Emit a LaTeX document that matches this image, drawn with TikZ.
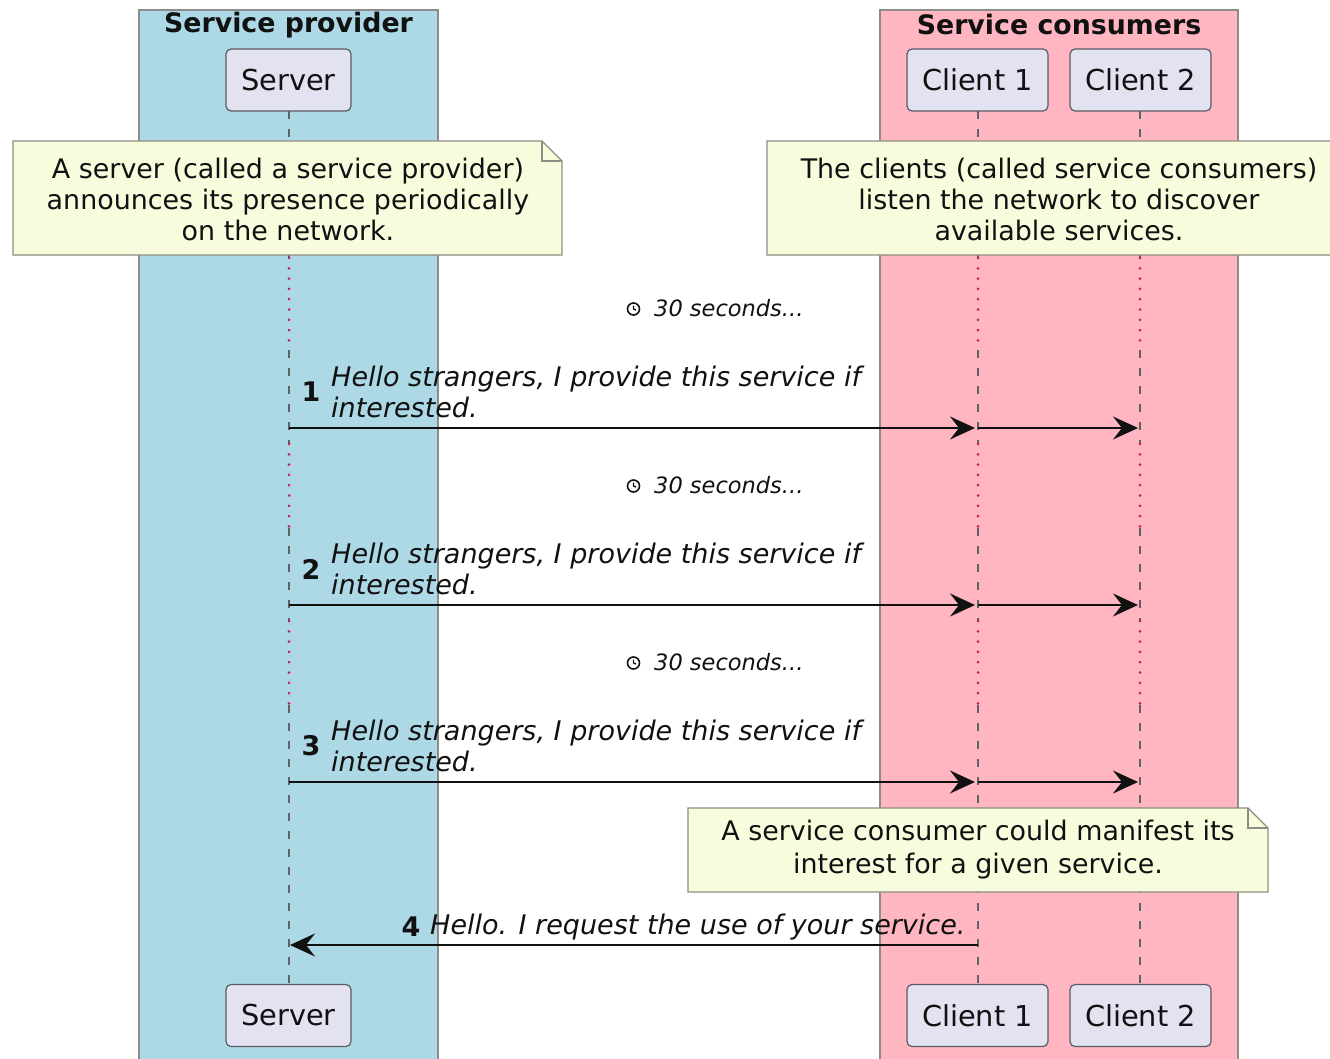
\documentclass[tikz,border=0pt]{standalone}
\usepackage{fontspec}
\setmainfont{DejaVu Sans}
\usetikzlibrary{arrows.meta}
\definecolor{grpblue}{HTML}{ADD8E6}
\definecolor{grppink}{HTML}{FFB6C1}
\definecolor{grpborder}{HTML}{8C8C8C}
\definecolor{partfill}{HTML}{E2E2F0}
\definecolor{partborder}{HTML}{5A5A64}
\definecolor{notefill}{HTML}{F8FCDC}
\definecolor{noteborder}{HTML}{8E8E80}
\definecolor{ink}{HTML}{111111}
\definecolor{dotred}{HTML}{C0245A}
\definecolor{lifegray}{HTML}{5E6266}
\tikzset{
  part/.style={draw=partborder, fill=partfill, rounded corners=5pt, line width=1.2pt,
    font=\fontsize{28.8}{34}\selectfont, text=ink, minimum height=62pt, inner sep=0pt},
  grptitle/.style={font=\bfseries\fontsize{26.8}{31}\selectfont, text=ink},
  notetext/.style={font=\fontsize{26.9}{31}\selectfont, text=ink, align=center, inner sep=0pt},
  noteshape/.style={fill=notefill, draw=noteborder, line width=1.2pt},
  msgtext/.style={font=\itshape\fontsize{27}{31}\selectfont, text=ink, align=left, inner sep=0pt, anchor=west},
  seqnum/.style={font=\bfseries\fontsize{27}{31}\selectfont, text=ink, inner sep=0pt},
  delaytext/.style={font=\itshape\fontsize{22.5}{26}\selectfont, text=ink, inner sep=0pt, anchor=west},
  msg/.style={draw=ink, line width=2pt, -{Stealth[length=25pt,width=23pt,inset=9pt]}},
  lifedash/.style={draw=lifegray, line width=1.4pt, dash pattern=on 8pt off 10pt},
  lifedot/.style={draw=dotred, line width=3pt, line cap=round, dash pattern=on 0pt off 10.3pt},
}
\begin{document}
\begin{tikzpicture}[x=1pt,y=-1pt]
\useasboundingbox (0,0) rectangle (1330,1059);
\fill[white] (0,0) rectangle (1330,1059);
\clip (0,0) rectangle (1330,1059);

% groups
\draw[fill=grpblue, draw=grpborder, line width=1.3pt] (139,10) rectangle (438,1075);
\draw[fill=grppink, draw=grpborder, line width=1.3pt] (880,10) rectangle (1238,1075);
\node[grptitle] (gprov) at (288.5,25) {Service provider};
\node[grptitle] (gcons) at (1059,25) {Service consumers};

% lifelines
\foreach \x in {289,978,1140} {
  \draw[lifedash] (\x,111) -- (\x,258);
  \draw[lifedot] (\x,258) -- (\x,350);
  \draw[lifedash] (\x,350) -- (\x,444);
  \draw[lifedot] (\x,444) -- (\x,528);
  \draw[lifedash] (\x,528) -- (\x,621);
  \draw[lifedot] (\x,621) -- (\x,705);
  \draw[lifedash] (\x,705) -- (\x,984);
}

% participants
\node[part, minimum width=125pt] (srvT) at (288.5,80) {Server};
\node[part, minimum width=141pt] (c1T) at (977.5,80) {Client 1};
\node[part, minimum width=141pt] (c2T) at (1140.5,80) {Client 2};
\node[part, minimum width=125pt] (srvB) at (288.5,1015.5) {Server};
\node[part, minimum width=141pt] (c1B) at (977.5,1015.5) {Client 1};
\node[part, minimum width=141pt] (c2B) at (1140.5,1015.5) {Client 2};

% notes
\path[noteshape] (13,141) -- (542,141) -- (562,161) -- (562,255) -- (13,255) -- cycle;
\draw[noteborder, line width=1.2pt] (542,141) -- (542,161) -- (562,161);
\node[notetext] (n1) at (288,199) {A server (called a service provider)\\announces its presence periodically\\on the network.};

\path[noteshape] (767,141) -- (1331,141) -- (1351,161) -- (1351,255) -- (767,255) -- cycle;
\draw[noteborder, line width=1.2pt] (1331,141) -- (1331,161) -- (1351,161);
\node[notetext] (n2) at (1059,199) {The clients (called service consumers)\\listen the network to discover\\available services.};

\path[noteshape] (688,808) -- (1248,808) -- (1268,828) -- (1268,892) -- (688,892) -- cycle;
\draw[noteborder, line width=1.2pt] (1248,808) -- (1248,828) -- (1268,828);
\node[notetext, font=\fontsize{26.9}{33}\selectfont] (n3) at (978,850) {A service consumer could manifest its\\interest for a given service.};

% delays
\foreach \y/\nm in {309/d1,486/d2,663/d3} {
  \draw[ink, line width=1.6pt] (633.5,\y) circle (6pt);
  \draw[ink, line width=1.4pt] (633.5,\y) -- (633.5,\y-3.5) (633.5,\y) -- (636,\y+1);
  \node[delaytext] (\nm) at (654,\y-1) {30 seconds...};
}

% messages
\coordinate (m1s) at (289,428);
\coordinate (m1a) at (978,428);
\coordinate (m1b) at (1140,428);
\coordinate (m2s) at (289,605);
\coordinate (m2a) at (978,605);
\coordinate (m2b) at (1140,605);
\coordinate (m3s) at (289,782);
\coordinate (m3a) at (978,782);
\coordinate (m3b) at (1140,782);
\coordinate (m4a) at (978,945);
\coordinate (m4s) at (290,945);

\foreach \i/\y in {1/428,2/605,3/782} {
  \draw[msg, shorten >=3pt] (m\i s) -- (m\i a);
  \draw[msg, shorten >=2pt] (m\i a) -- (m\i b);
  \node[seqnum] (sn\i) at (311,\y-36) {\i};
  \node[msgtext] (mt\i) at (331,\y-36.5) {Hello strangers, I provide this service if\\interested.};
}
\draw[msg] (m4a) -- (m4s);
\node[seqnum] (sn4) at (411,927) {4};
\node[msgtext] (mt4) at (430,927) {Hello. I request the use of your service.};
\end{tikzpicture}
\end{document}
